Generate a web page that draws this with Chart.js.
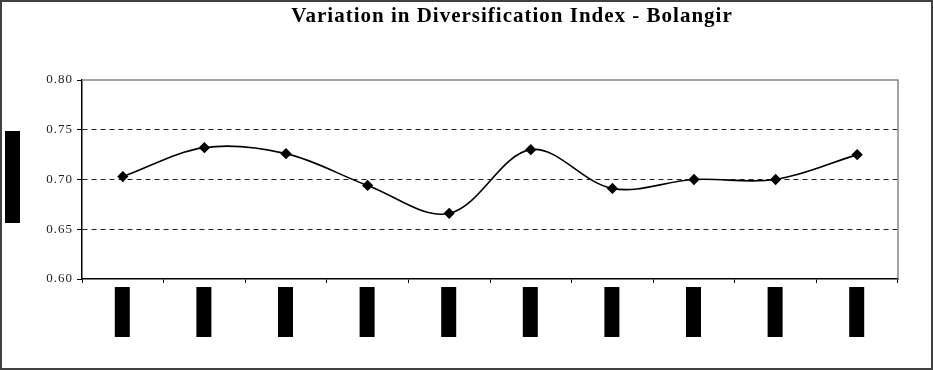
<!DOCTYPE html>
<html>
<head>
<meta charset="utf-8">
<script src="https://cdn.jsdelivr.net/npm/chart.js@4.4.0/dist/chart.umd.min.js"></script>
<style>
html,body{margin:0;padding:0;background:#fff;}
#wrap{width:933px;height:370px;}
</style>
</head>
<body>
<div id="wrap"><canvas id="c" width="933" height="370"></canvas></div>
<script>
const chartTitle = "Variation in Diversification Index - Bolangir";
const yAxisTitle = "Diversification Index";
const categories = ["1994-95","1995-96","1996-97","1997-98","1998-99","1999-00","2000-01","2001-02","2002-03","2003-04"];
const indexValues = [0.703, 0.732, 0.726, 0.694, 0.666, 0.730, 0.691, 0.700, 0.700, 0.725];
const yTicks = [0.60, 0.65, 0.70, 0.75, 0.80];

const decor = {
  id: 'decor',
  beforeDraw(chart) {
    const ctx = chart.ctx;
    const a = chart.chartArea;
    const xs = chart.scales.x;
    ctx.save();
    ctx.fillStyle = '#fff';
    ctx.fillRect(0, 0, chart.width, chart.height);
    ctx.fillStyle = '#000';
    categories.forEach((c, i) => {
      const px = xs.getPixelForTick(i);
      ctx.fillRect(px - 8, a.bottom + 8, 15, 50);
    });
    ctx.fillRect(5, 131, 15, 92);
    ctx.restore();
    ctx.letterSpacing = '1px';
  },
  afterDraw(chart) {
    const ctx = chart.ctx;
    const a = chart.chartArea;
    ctx.save();
    ctx.translate(12.5, 177);
    ctx.rotate(-Math.PI / 2);
    ctx.fillStyle = '#000';
    ctx.letterSpacing = '0px';
    ctx.font = 'bold 9px "Liberation Serif"';
    ctx.textAlign = 'center';
    ctx.textBaseline = 'middle';
    ctx.fillText(yAxisTitle, 0, 0);
    ctx.restore();
    ctx.save();
    ctx.strokeStyle = '#888';
    ctx.lineWidth = 1.5;
    ctx.beginPath();
    ctx.moveTo(a.left, a.top);
    ctx.lineTo(a.right, a.top);
    ctx.lineTo(a.right, a.bottom);
    ctx.stroke();
    ctx.strokeStyle = '#404040';
    ctx.lineWidth = 2;
    ctx.strokeRect(1, 1, chart.width - 2, chart.height - 2);
    ctx.fillStyle = '#000';
    ctx.letterSpacing = '1px';
    ctx.font = 'bold 21px "Liberation Serif"';
    ctx.textAlign = 'center';
    ctx.textBaseline = 'alphabetic';
    ctx.fillText(chartTitle, 512, 22);
    ctx.restore();
  }
};

new Chart(document.getElementById('c'), {
  type: 'line',
  data: {
    labels: categories,
    datasets: [{
      data: indexValues,
      borderColor: '#000',
      backgroundColor: '#000',
      borderWidth: 1.6,
      tension: 0.35,
      pointStyle: 'rectRot',
      pointRadius: 4.5,
      pointHoverRadius: 4.5,
      pointBackgroundColor: '#000',
      pointBorderColor: '#000',
      fill: false
    }]
  },
  options: {
    responsive: false,
    animation: false,
    events: [],
    layout: { padding: { top: 80, right: 35, left: 0, bottom: 0 } },
    plugins: { legend: { display: false }, title: { display: false }, tooltip: { enabled: false } },
    scales: {
      x: {
        type: 'category',
        offset: true,
        grid: { display: true, drawOnChartArea: false, offset: true, tickLength: 4, tickColor: '#000', tickWidth: 1 },
        border: { display: true, color: '#000', width: 1.5 },
        ticks: {
          color: '#000',
          font: { family: 'Liberation Serif', size: 11, weight: 'bold' },
          maxRotation: 90, minRotation: 90,
          autoSkip: false,
          padding: 10
        },
        afterFit(s) { s.height = 91; }
      },
      y: {
        min: 0.6, max: 0.8,
        afterBuildTicks(s) { s.ticks = yTicks.map(v => ({ value: v })); },
        grid: {
          color: ctx => (ctx.tick && (Math.abs(ctx.tick.value - 0.6) < 1e-9 || Math.abs(ctx.tick.value - 0.8) < 1e-9)) ? 'rgba(0,0,0,0)' : '#222',
          lineWidth: 1,
          tickLength: 5,
          tickColor: '#000',
          tickWidth: 1
        },
        border: { display: true, color: '#000', width: 1.5, dash: [5, 4] },
        ticks: {
          color: '#222',
          font: { family: 'Liberation Serif', size: 13 },
          padding: 4,
          callback: v => Number(v).toFixed(2)
        },
        afterFit(s) { s.width = 82; }
      }
    }
  },
  plugins: [decor]
});
</script>
</body>
</html>
